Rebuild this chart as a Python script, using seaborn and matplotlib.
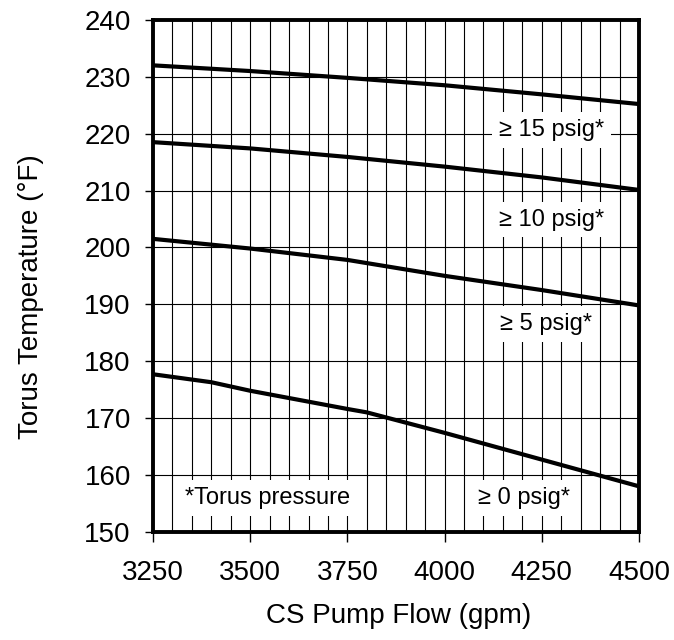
import matplotlib
matplotlib.use("Agg")
import matplotlib.pyplot as plt
import seaborn as sns
import pandas as pd
from matplotlib.ticker import MultipleLocator

# Data
flow_15 = [3250, 3500, 3750, 4000, 4250, 4500]
temp_15 = [232.0, 231.0, 229.8, 228.5, 226.9, 225.2]

flow_10 = [3250, 3500, 3750, 4000, 4250, 4500]
temp_10 = [218.5, 217.4, 215.9, 214.2, 212.3, 210.1]

flow_5 = [3250, 3500, 3750, 4000, 4250, 4500]
temp_5 = [201.5, 199.8, 197.8, 195.0, 192.5, 189.8]

flow_0 = [3250, 3400, 3500, 3750, 3800, 4000, 4250, 4500]
temp_0 = [177.7, 176.3, 174.8, 171.6, 171.0, 167.4, 162.7, 158.0]

series_names = ["15", "10", "5", "0"]
labels = ["\u2265 15 psig*", "\u2265 10 psig*", "\u2265 5 psig*", "\u2265 0 psig*"]
note_text = "*Torus pressure"
x_ticks = [3250, 3500, 3750, 4000, 4250, 4500]
y_ticks = [150, 160, 170, 180, 190, 200, 210, 220, 230, 240]

frames = []
for name, fx, ty in zip(series_names, [flow_15, flow_10, flow_5, flow_0],
                        [temp_15, temp_10, temp_5, temp_0]):
    frames.append(pd.DataFrame({"flow": fx, "temp": ty, "series": name}))
df = pd.concat(frames, ignore_index=True)

sns.set_theme(style="white")
plt.rcParams["font.family"] = ["Liberation Sans", "DejaVu Sans"]
plt.rcParams["text.color"] = "black"
plt.rcParams["axes.labelcolor"] = "black"
plt.rcParams["xtick.color"] = "black"
plt.rcParams["ytick.color"] = "black"

fig = plt.figure(figsize=(6.74, 6.4), dpi=100)
ax = fig.add_axes([0.227, 0.169, 0.721, 0.800])

sns.lineplot(data=df, x="flow", y="temp", hue="series", palette=["black"] * 4,
             linewidth=3.0, legend=False, ax=ax, sort=False, zorder=3)

ax.set_xlim(3250, 4500)
ax.set_ylim(150, 240)
ax.set_xticks(x_ticks)
ax.set_yticks(y_ticks)
ax.xaxis.set_minor_locator(MultipleLocator(50))
ax.grid(True, which="major", axis="both", color="black", linewidth=0.8)
ax.grid(True, which="minor", axis="x", color="black", linewidth=0.8)
ax.set_axisbelow(True)

for s in ax.spines.values():
    s.set_color("black")
    s.set_linewidth(2.8)
    s.set_visible(True)

ax.tick_params(axis="x", which="major", direction="out", length=7.5, width=1,
               color="black", labelcolor="black", labelsize=20, pad=13, bottom=True)
ax.tick_params(axis="y", which="major", direction="out", length=6, width=1,
               color="black", labelcolor="black", labelsize=20, pad=10, left=True)
ax.tick_params(axis="x", which="minor", length=0)

ax.set_xlabel("CS Pump Flow (gpm)", fontsize=20, color="black")
ax.set_ylabel("Torus Temperature (\u00b0F)", fontsize=20, color="black")
ax.xaxis.set_label_coords(0.505, -0.139)
ax.yaxis.set_label_coords(-0.224, 0.46)

box = dict(facecolor="white", edgecolor="none", pad=5)
label_pos = [(4275, 220.6), (4275, 204.9), (4262, 186.5), (4204, 156.0)]
for (lx, ly), txt in zip(label_pos, labels):
    ax.text(lx, ly, txt, fontsize=17, ha="center", va="center", bbox=box,
            zorder=4, color="black")
ax.text(3545, 156.0, note_text, fontsize=17, ha="center", va="center",
        bbox=box, zorder=4, color="black")

fig.savefig("out.png", dpi=100, facecolor="white")
